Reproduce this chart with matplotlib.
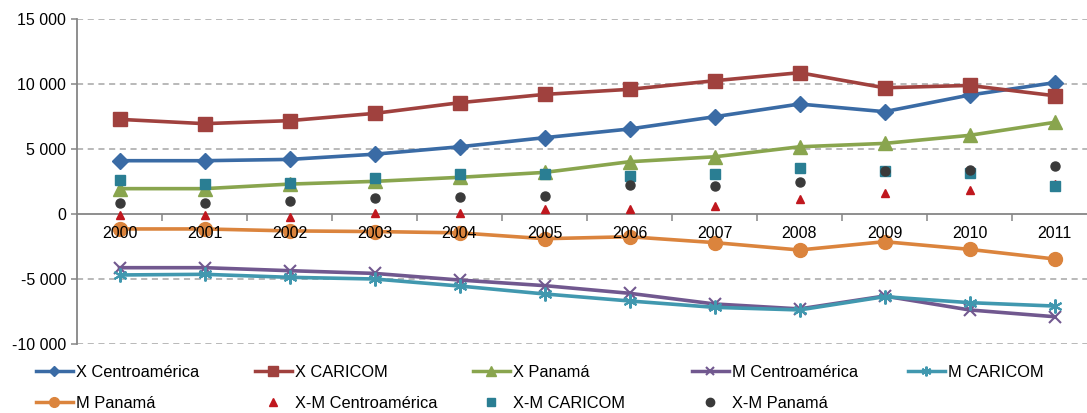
import matplotlib
matplotlib.use("Agg")
import matplotlib.pyplot as plt
from matplotlib.lines import Line2D
import numpy as np

plt.rcParams['font.family'] = ['Liberation Sans', 'DejaVu Sans']

years = ['2000', '2001', '2002', '2003', '2004', '2005', '2006', '2007', '2008', '2009', '2010', '2011']

x_centro = [4100, 4100, 4200, 4600, 5170, 5870, 6540, 7480, 8460, 7870, 9150, 10100]
x_caricom = [7280, 6950, 7180, 7740, 8560, 9200, 9590, 10250, 10870, 9710, 9890, 9100]
x_panama = [1950, 1950, 2300, 2510, 2820, 3200, 4020, 4400, 5170, 5430, 6050, 7050]
m_centro = [-4130, -4130, -4360, -4570, -5080, -5510, -6100, -6920, -7300, -6310, -7380, -7900]
m_caricom = [-4690, -4640, -4870, -5000, -5540, -6150, -6690, -7180, -7380, -6360, -6820, -7080]
m_panama = [-1150, -1150, -1300, -1350, -1450, -1900, -1750, -2200, -2770, -2130, -2720, -3460]
xm_centro = [-50, -50, -200, 50, 100, 370, 400, 600, 1120, 1600, 1820, 2300]
xm_caricom = [2650, 2280, 2400, 2780, 3100, 3100, 2950, 3080, 3540, 3320, 3120, 2150]
xm_panama = [850, 870, 970, 1200, 1320, 1380, 2240, 2190, 2460, 3310, 3370, 3680]

yticks = [-10000, -5000, 0, 5000, 10000, 15000]
ytick_labels = ['-10\u00a0000', '-5\u00a0000', '0', '5\u00a0000', '10\u00a0000', '15\u00a0000']

W, H = 1087, 413
fig = plt.figure(figsize=(W / 100, H / 100), dpi=100)
ax = fig.add_axes([77 / W, (H - 344) / H, (1097 - 77) / W, 325 / H])

xs = np.arange(len(years))

lw = 2.6
# name, values, colour, marker, size, legend size
series = [
    ('X Centroamérica', x_centro, '#3A6BA5', 'D', 8.5, 5),
    ('X CARICOM', x_caricom, '#A0413E', 's', 9.5, 7.5),
    ('X Panamá', x_panama, '#89A54E', '^', 10, 7),
    ('M Centroamérica', m_centro, '#71588F', 'x', 9, 6),
    ('M CARICOM', m_caricom, '#4198AF', (6, 2, 0), 10, 7),
    ('M Panamá', m_panama, '#DB843D', 'o', 10, 7),
]
proxies = []
for name, vals, col, mk, ms, lms in series:
    mew = 1.5 if mk in ('x', (6, 2, 0)) else 1.0
    ax.plot(xs, vals, color=col, lw=lw, marker=mk, ms=ms, mew=mew,
            mec=col, zorder=3)
    proxies.append(Line2D([], [], color=col, lw=2.5, marker=mk, ms=lms,
                          mew=mew, mec=col, label=name))

scat = [
    ('X-M Centroamérica', xm_centro, '#C0171E', '^', 6, 6),
    ('X-M CARICOM', xm_caricom, '#2A7E93', 's', 6.5, 6),
    ('X-M Panamá', xm_panama, '#3A3A3A', 'o', 6.5, 6),
]
for name, vals, col, mk, ms, lms in scat:
    ax.plot(xs, vals, ls='none', marker=mk, ms=ms, color=col, mec=col, zorder=4)
    proxies.append(Line2D([], [], ls='none', marker=mk, ms=lms, color=col,
                          mec=col, label=name))

for yv in yticks:
    if yv != 0:
        ax.axhline(yv, color='#A6A6A6', lw=1.1, ls=(0, (4, 3)), zorder=0.5)

ax.set_xlim(-0.5, len(years) - 0.5)
ax.set_ylim(-10000, 15000)
ax.set_yticks(yticks)
ax.set_yticklabels(ytick_labels, fontsize=11.5)

ax.spines['top'].set_visible(False)
ax.spines['right'].set_visible(False)
ax.spines['left'].set_color('#868686')
ax.spines['left'].set_linewidth(1.3)
ax.spines['bottom'].set_position(('data', 0))
ax.spines['bottom'].set_color('#868686')
ax.spines['bottom'].set_linewidth(1.3)

ax.set_xticks(np.arange(0.5, len(years) - 0.5, 1))
ax.set_xticklabels([])
ax.tick_params(axis='x', which='major', direction='out', length=5, color='#868686', width=1.1)
ax.set_xticks(xs, minor=True)
ax.set_xticklabels(years, minor=True, fontsize=11.5)
ax.tick_params(axis='x', which='minor', length=0, pad=9)
ax.tick_params(axis='y', direction='out', length=4, color='#868686', width=1.1, pad=4)
ax.xaxis.set_zorder(5)

# legend: 5 columns, row-wise order
col_x = [36, 255, 473, 692, 908]
fs = 11.8
for c, x0 in enumerate(col_x):
    items = [proxies[i] for i in (c, c + 5) if i < len(proxies)]
    fig.legend(items, [p.get_label() for p in items], loc='upper left',
               bbox_to_anchor=(x0 / W, 1 - 365 / H), frameon=False,
               fontsize=fs, handlelength=2.25, handletextpad=0.2,
               labelspacing=0.95, borderaxespad=0, borderpad=0)

fig.savefig('out.png', dpi=100)
